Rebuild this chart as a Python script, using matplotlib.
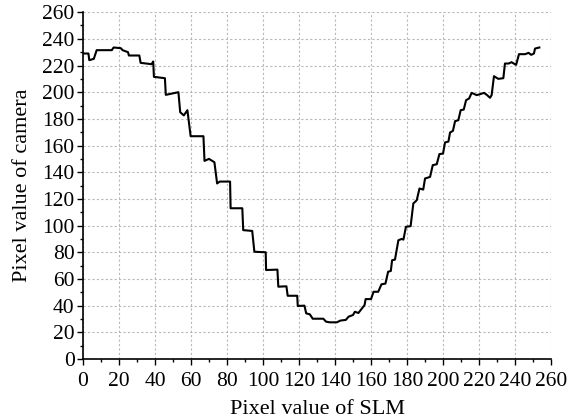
import matplotlib
matplotlib.use('Agg')
import matplotlib.pyplot as plt
from matplotlib.ticker import MultipleLocator

# SLM pixel value vs. camera pixel value (vertices)
slm = [0, 3, 3.5, 6, 7.6, 16, 17, 21, 22, 25, 25.5, 31.3, 32, 38.1, 39, 39.4,
       45.5, 46, 53, 54, 56, 58, 59.8, 66.9, 67.5, 70, 73, 74.5, 76, 81.7,
       82, 88.5, 89, 94, 95.2, 101.5, 101.7, 108, 108.5, 113, 113.7, 119,
       119.3, 123, 124, 126, 127.6, 133.5, 135, 137, 141, 143, 146, 147.5,
       150, 151, 153, 156.4, 157, 160, 161.4, 164, 165.8, 168, 169.5, 171,
       171.7, 173.3, 175.2, 177, 178, 179.4, 182, 183.5, 185.4, 186.9, 189,
       190, 192.8, 194.3, 196.5, 198, 200, 201.1, 203, 203.9, 205.5, 206.7,
       208.5, 209.8, 211.5, 212.8, 214.5, 215.9, 218.7, 220.5, 222.8, 224.5,
       226.1, 227, 228.3, 230.7, 233.5, 234.4, 236.5, 238, 240.6, 242.2,
       245.6, 247.5, 249, 250.5, 251.1, 253.5]
camera = [229, 229, 224, 225, 231.5, 231.5, 233.5, 233, 231.5, 230, 227.5,
          227.5, 222, 221, 223, 211.5, 210.5, 198, 200, 185, 182.6, 186.5,
          167, 167, 148.5, 150, 147.5, 131.6, 133, 133, 113, 113, 96.6, 96,
          80.4, 80, 66.7, 67, 54.2, 54.5, 47.4, 47.4, 39.7, 40, 34.2, 33.5,
          30.2, 30.2, 28, 27.5, 27.5, 28.8, 29.3, 31.7, 33, 35.4, 34.5, 40.4,
          44.9, 44.9, 50.4, 50.4, 56, 56.5, 65.4, 66, 74, 74.5, 89, 90, 89.5,
          99.1, 99.6, 116.6, 119, 127.8, 127, 135.3, 136.5, 145.3, 146, 153.6,
          154, 162.3, 163, 169.8, 171, 178.3, 179, 186.5, 187, 194, 195.3,
          199.5, 197.8, 198.5, 199.5, 197.8, 195.8, 197.8, 212, 210, 210.5,
          221.5, 221.5, 222.5, 220.5, 228.5, 228.5, 229.5, 228, 229, 232.7,
          233.5]


def main():
    plt.rcParams['font.family'] = ['Liberation Serif', 'DejaVu Serif']
    plt.rcParams['font.size'] = 15.5

    fig = plt.figure(figsize=(5.74, 4.19), dpi=100)
    ax = fig.add_axes([0.1446, 0.1432, 0.8154, 0.8278])

    ax.plot(slm, camera, color='k', lw=1.5)

    ax.set_xlim(0, 260)
    ax.set_ylim(0, 260)
    ax.xaxis.set_major_locator(MultipleLocator(20))
    ax.xaxis.set_minor_locator(MultipleLocator(10))
    ax.yaxis.set_major_locator(MultipleLocator(20))
    ax.yaxis.set_minor_locator(MultipleLocator(10))

    ax.spines['top'].set_visible(False)
    ax.spines['right'].set_visible(False)
    ax.spines['left'].set_linewidth(1.2)
    ax.spines['bottom'].set_linewidth(1.2)
    ax.tick_params(which='major', direction='out', length=4.5, width=1.0, pad=1.5)
    ax.tick_params(axis='x', which='major', pad=5)
    ax.tick_params(which='minor', direction='out', length=2.5, width=1.0)

    ax.grid(True, which='major', ls=(0, (2, 2)), color='#b8b8b8', lw=0.8)

    ax.set_xlabel('Pixel value of SLM', fontsize=16, labelpad=6)
    ax.set_ylabel('Pixel value of camera', fontsize=16, labelpad=7)

    fig.savefig('out.png', dpi=100)


if __name__ == '__main__':
    main()
